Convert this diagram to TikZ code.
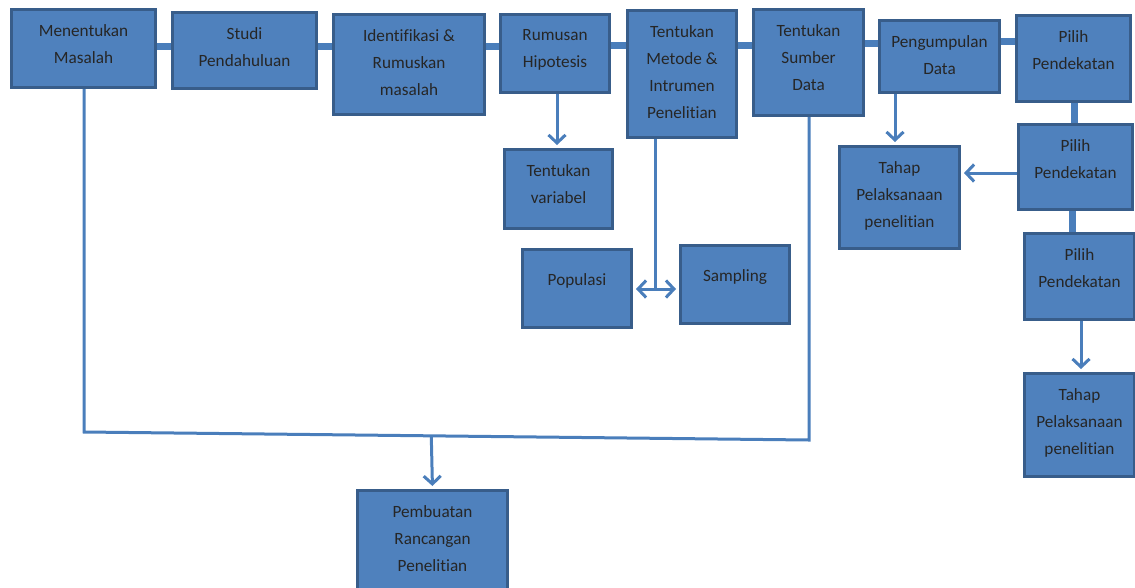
\documentclass[tikz,border=0pt]{standalone}
\usepackage{fontspec}
\setmainfont{Carlito}[RawFeature=-liga]
\usetikzlibrary{arrows.meta,calc}
\definecolor{isi}{RGB}{79,129,189}
\definecolor{tepi}{RGB}{56,93,138}
\definecolor{garis}{RGB}{74,126,187}

\begin{document}
\begin{tikzpicture}[x=1pt,y=-1pt,
    kotak/.style={draw=tepi, fill=isi, line width=3pt, anchor=north west, inner sep=0pt},
    tulisan/.style={anchor=north, align=center, inner sep=0pt, yshift=-16pt, text=black!85,
        font=\fontsize{17.2}{27}\selectfont},
    hubung/.style={draw=garis, line width=3pt},
    batang/.style={draw=garis, line width=7pt},
    panah/.style={hubung, shorten >=3pt, -{Straight Barb[length=8pt,width=17pt]}}]
    \useasboundingbox (0,0) rectangle (1135,587);

    % baris atas
    \node[kotak, minimum width=144pt, minimum height=78pt, label={[tulisan]north:{Menentukan\\Masalah}}] (masalah) at (10,8) {};
    \node[kotak, minimum width=144pt, minimum height=76pt, label={[tulisan]north:{Studi\\Pendahuluan}}] (studi) at (171,11) {};
    \node[kotak, minimum width=151pt, minimum height=100pt, label={[tulisan]north:{Identifikasi \&\\Rumuskan\\masalah}}] (identifikasi) at (332,13) {};
    \node[kotak, minimum width=109pt, minimum height=78pt, label={[tulisan]north:{Rumusan\\Hipotesis}}] (hipotesis) at (499,13) {};
    \node[kotak, minimum width=109pt, minimum height=127pt, label={[tulisan]north:{Tentukan\\Metode \&\\Intrumen\\Penelitian}}] (metode) at (626,9) {};
    \node[kotak, minimum width=110pt, minimum height=106pt, label={[tulisan]north:{Tentukan\\Sumber\\Data}}] (sumber) at (752,8) {};
    \node[kotak, minimum width=120pt, minimum height=72pt, label={[tulisan]north:{Pengumpulan\\Data}}] (pengumpulan) at (878,19) {};
    \node[kotak, minimum width=114pt, minimum height=86pt, label={[tulisan]north:{Pilih\\Pendekatan}}] (pilihA) at (1015,14) {};

    % kotak bawah
    \node[kotak, minimum width=108pt, minimum height=79pt, label={[tulisan]north:{Tentukan\\variabel}}] (variabel) at (503,148) {};
    \node[kotak, minimum width=109pt, minimum height=78pt, label={[tulisan, yshift=-9pt]north:{Populasi}}] (populasi) at (521,248) {};
    \node[kotak, minimum width=109pt, minimum height=78pt, label={[tulisan, yshift=-9pt]north:{Sampling}}] (sampling) at (679,244) {};
    \node[kotak, minimum width=120pt, minimum height=102pt, label={[tulisan]north:{Tahap\\Pelaksanaan\\penelitian}}] (tahapA) at (838,145) {};
    \node[kotak, minimum width=114pt, minimum height=85pt, label={[tulisan]north:{Pilih\\Pendekatan}}] (pilihB) at (1017,123) {};
    \node[kotak, minimum width=110pt, minimum height=86pt, label={[tulisan]north:{Pilih\\Pendekatan}}] (pilihC) at (1023,232) {};
    \node[kotak, minimum width=110pt, minimum height=103pt, label={[tulisan]north:{Tahap\\Pelaksanaan\\penelitian}}] (tahapB) at (1023,372) {};
    \node[kotak, minimum width=150pt, minimum height=110pt, label={[tulisan]north:{Pembuatan\\Rancangan\\Penelitian}}] (rancangan) at (356,489) {};

    % batang penghubung
    \draw[batang] (masalah.east |- 0,46) -- (studi.west |- 0,46);
    \draw[batang] (studi.east |- 0,46) -- (identifikasi.west |- 0,46);
    \draw[batang] (identifikasi.east |- 0,46) -- (hipotesis.west |- 0,46);
    \draw[batang] (hipotesis.east |- 0,45) -- (metode.west |- 0,45);
    \draw[batang] (metode.east |- 0,45) -- (sumber.west |- 0,45);
    \draw[batang] (sumber.east |- 0,43) -- (pengumpulan.west |- 0,43);
    \draw[batang] (pengumpulan.east |- 0,41) -- (pilihA.west |- 0,41);
    \draw[batang] (pilihA.south -| 1074,0) -- (pilihB.north -| 1074,0);
    \draw[batang] (pilihB.south -| 1072,0) -- (pilihC.north -| 1072,0);

    % panah
    \draw[panah] (hipotesis.south -| 557,0) -- (variabel.north -| 557,0);
    \coordinate (cabang) at (655,289);
    \draw[hubung] (metode.south -| cabang) -- (cabang);
    \draw[panah] (cabang) -- (populasi.east |- cabang);
    \draw[panah] (cabang) -- (sampling.west |- cabang);
    \coordinate (kanan) at (809,440);
    \coordinate (kiri) at (84,432);
    \draw[hubung] (sumber.south -| kanan) -- (kanan) -- (kiri) -- (masalah.south -| kiri);
    \draw[panah] ($(kiri)!0.479!(kanan)$) -- (rancangan.north);
    \draw[panah] (pengumpulan.south -| 895,0) -- (tahapA.north -| 895,0);
    \draw[panah] (pilihB.west |- 0,173) -- (tahapA.east |- 0,173);
    \draw[panah] (pilihC.south -| 1081,0) -- (tahapB.north -| 1081,0);
\end{tikzpicture}
\end{document}
